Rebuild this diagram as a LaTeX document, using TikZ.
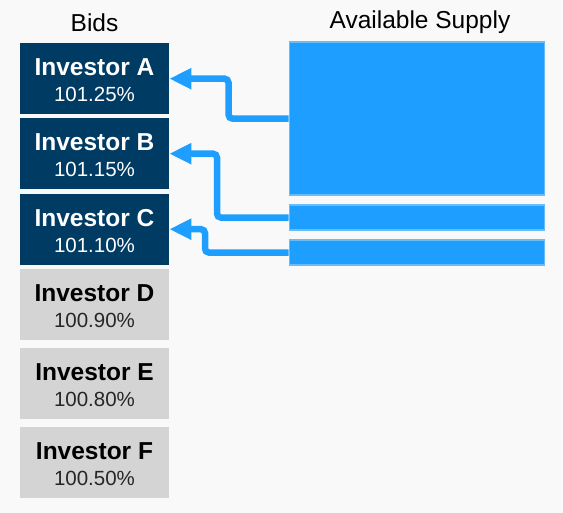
\documentclass[tikz,border=0pt]{standalone}
\usepackage{fontspec}
\setmainfont{Liberation Sans}
\usetikzlibrary{arrows.meta}
\definecolor{bgc}{HTML}{F9F9F9}
\definecolor{navy}{HTML}{003B64}
\definecolor{lgray}{HTML}{D4D4D4}
\definecolor{sblue}{HTML}{1E9FFF}
\definecolor{sedge}{HTML}{66BDF7}
\tikzset{
  bidbox/.style={draw=none, minimum width=149pt, minimum height=71pt, inner sep=0pt, anchor=north west},
  won/.style={bidbox, fill=navy},
  lost/.style={bidbox, fill=lgray},
  namet/.style={anchor=base, inner sep=0pt, font=\fontsize{24.5}{28}\selectfont\bfseries},
  pctt/.style={anchor=base, inner sep=0pt, font=\fontsize{20.5}{24}\selectfont},
  titlet/.style={anchor=base, inner sep=0pt, font=\fontsize{24.5}{28}\selectfont, text=black},
  supply/.style={draw=sedge, fill=sblue, line width=1.2pt, inner sep=0pt, minimum width=255pt, anchor=north west},
  alloc/.style={draw=sblue, line width=6.5pt, rounded corners=4pt, -{Triangle[length=22pt,width=20pt]}}
}
\begin{document}
\begin{tikzpicture}[x=1pt,y=-1pt]
\fill[bgc] (0,0) rectangle (563,513);
\useasboundingbox (0,0) rectangle (563,513);
% titles
\node[titlet] (tb) at (94.5,31.5) {Bids};
\node[titlet] (ts) at (420,28.5) {Available Supply};
% bid boxes
\node[won] (a) at (20,43) {};
\node[won] (b) at (20,118) {};
\node[won] (c) at (20,193.5) {};
\node[lost] (d) at (20,269) {};
\node[lost] (e) at (20,347.5) {};
\node[lost] (f) at (20,426.5) {};
\node[namet, text=white] (an) at (94.5,76) {Investor A};
\node[pctt, text=white] (ap) at (94.5,102) {101.25\%};
\node[namet, text=white] (bn) at (94.5,151) {Investor B};
\node[pctt, text=white] (bp) at (94.5,177) {101.15\%};
\node[namet, text=white] (cn) at (94.5,226.5) {Investor C};
\node[pctt, text=white] (cp) at (94.5,252.5) {101.10\%};
\node[namet, text=black] (dn) at (94.5,302) {Investor D};
\node[pctt, text=black!85] (dp) at (94.5,328) {100.90\%};
\node[namet, text=black] (en) at (94.5,380.5) {Investor E};
\node[pctt, text=black!85] (ep) at (94.5,406.5) {100.80\%};
\node[namet, text=black] (fn) at (94.5,459.5) {Investor F};
\node[pctt, text=black!85] (fp) at (94.5,485.5) {100.50\%};
% supply
\node[supply, minimum height=153pt] (s1) at (288.5,41.5) {};
\node[supply, minimum height=25pt] (s2) at (288.5,204.5) {};
\node[supply, minimum height=25pt] (s3) at (288.5,239.5) {};
% allocations
\draw[alloc] (s1.west) -- ++(-60,0) |- (a.east);
\draw[alloc] (s2.west) -- ++(-71.5,0) |- (b.east);
\draw[alloc] (s3.west) -- ++(-83.5,0) |- (c.east);
\end{tikzpicture}
\end{document}
